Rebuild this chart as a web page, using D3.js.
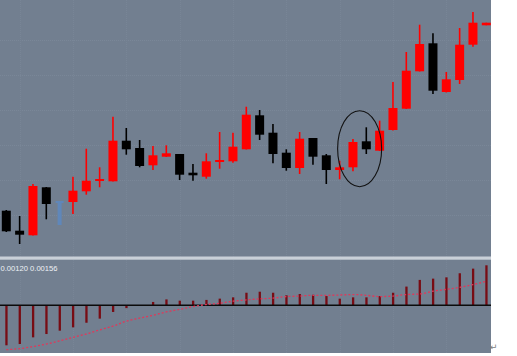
<!DOCTYPE html>
<html>
<head>
<meta charset="utf-8">
<script src="https://cdn.jsdelivr.net/npm/d3@7"></script>
<style>
  html, body { margin: 0; padding: 0; background: #ffffff; }
  svg { display: block; }
</style>
</head>
<body>
<script>
// ---------- data ----------
const opens  = [1.30453,1.30253,1.30207,1.30687,1.30547,1.30540,1.30647,1.30750,1.30747,1.31153,
                1.31080,1.30907,1.30993,1.31020,1.30833,1.30793,1.30945,1.30947,1.31067,1.31407,
                1.31233,1.31033,1.30880,1.31180,1.31007,1.30860,1.30887,1.31147,1.31053,1.31260,
                1.31473,1.31847,1.32127,1.31640,1.31760,1.32113,1.32307];
const highs  = [1.30460,1.30400,1.30720,1.30690,1.30550,1.30793,1.31073,1.30887,1.31393,1.31280,
                1.31160,1.31100,1.31107,1.31020,1.30920,1.31027,1.31240,1.31233,1.31493,1.31460,
                1.31320,1.31067,1.31240,1.31180,1.31020,1.30953,1.31170,1.31287,1.31353,1.31740,
                1.32040,1.32313,1.32227,1.31840,1.32280,1.32440,1.32333];
const lows   = [1.30240,1.30120,1.30205,1.30367,1.30310,1.30420,1.30613,1.30687,1.30745,1.31013,
                1.30887,1.30860,1.30990,1.30760,1.30753,1.30773,1.30873,1.30933,1.31065,1.31160,
                1.30927,1.30853,1.30820,1.30913,1.30720,1.30767,1.30847,1.31020,1.31050,1.31255,
                1.31470,1.31845,1.31620,1.31635,1.31720,1.32093,1.32307];
const closes = [1.30247,1.30213,1.30700,1.30520,1.30310,1.30653,1.30753,1.30770,1.31153,1.31067,
                1.30900,1.31007,1.31027,1.30813,1.30807,1.30947,1.30960,1.31093,1.31413,1.31213,
                1.31020,1.30880,1.31173,1.30993,1.30860,1.30887,1.31140,1.31067,1.31253,1.31480,
                1.31853,1.32120,1.31653,1.31767,1.32113,1.32333,1.32333];
const markedBars = [4];   // bar drawn in blue in the original

const macdHist = [-0.00156,-0.00151,-0.00125,-0.00112,-0.00099,-0.00086,-0.00068,-0.00052,-0.00026,-0.00011,
                   0.00001, 0.00013, 0.00023, 0.00018, 0.00018, 0.00021, 0.00026, 0.00031, 0.00049, 0.00053,
                   0.00049, 0.00039, 0.00044, 0.00041, 0.00036, 0.00026, 0.00031, 0.00031, 0.00036, 0.00049,
                   0.00073, 0.00099, 0.00104, 0.00109, 0.00125, 0.00143, 0.00156];
const macdSignal = [-0.00173,-0.00169,-0.00161,-0.00151,-0.00139,-0.00125,-0.00112,-0.00096,-0.00081,-0.00062,
                    -0.00050,-0.00039,-0.00026,-0.00016,-0.00005, 0.00003, 0.00008, 0.00016, 0.00021, 0.00025,
                     0.00028, 0.00034, 0.00036, 0.00039, 0.00039, 0.00040, 0.00042, 0.00039, 0.00034, 0.00036,
                     0.00042, 0.00044, 0.00055, 0.00062, 0.00070, 0.00081, 0.00094];
const indicatorLabel = "0.00120 0.00156";
const gridPrices = [1.3216, 1.3181, 1.3146, 1.3111, 1.3076, 1.3041];
const circleAt = { bar: 26.5, price: 1.31073, halfBars: 1.65, halfPrice: 0.0038 };

// ---------- layout ----------
const W = 517, H = 356;
const plotW = 491;
const svg = d3.select("body").append("svg").attr("width", W).attr("height", H);

svg.append("rect").attr("x", 0).attr("y", 0).attr("width", plotW).attr("height", 353)
   .attr("fill", "#727f90");

const defs = svg.append("defs");
defs.append("clipPath").attr("id", "clip").append("rect")
    .attr("x", 0).attr("y", 0).attr("width", plotW).attr("height", 353);

const x = d3.scaleLinear().domain([0, 36]).range([6.3, 486.3]);
const y = d3.scaleLinear().domain([1.3000, 1.3256]).range([256, 0]);
const ym = d3.scaleLinear().domain([0, 0.00156]).range([305.3, 265.3]);

const g = svg.append("g").attr("clip-path", "url(#clip)");

// faint grid
g.selectAll("line.hgrid").data(gridPrices).join("line")
  .attr("x1", 0).attr("x2", plotW)
  .attr("y1", d => Math.round(y(d)) + 0.5).attr("y2", d => Math.round(y(d)) + 0.5)
  .attr("stroke", "#7a8798").attr("stroke-width", 1).attr("stroke-dasharray", "1,1");
const vgrid = d3.range(0, 37, 4);
g.selectAll("line.vgrid").data(vgrid).join("line")
  .attr("x1", d => Math.round(x(d + 1)) + 0.5).attr("x2", d => Math.round(x(d + 1)) + 0.5)
  .attr("y1", 0).attr("y2", 353)
  .attr("stroke", "#788596").attr("stroke-width", 1).attr("stroke-dasharray", "1,1");

// candles
const idx = d3.range(opens.length);
const colorOf = i => markedBars.includes(i) ? "#5f87ba" : (closes[i] >= opens[i] ? "#ff0000" : "#000000");

g.selectAll("line.wick").data(idx).join("line")
  .attr("x1", i => x(i)).attr("x2", i => x(i))
  .attr("y1", i => y(highs[i])).attr("y2", i => y(lows[i]))
  .attr("stroke", colorOf).attr("stroke-width", 1.6);

const bodyW = 9;
g.selectAll("rect.body").data(idx).join("rect")
  .attr("x", i => x(i) - (markedBars.includes(i) ? 2 : bodyW / 2))
  .attr("width", i => markedBars.includes(i) ? 4 : bodyW)
  .attr("y", i => y(Math.max(opens[i], closes[i])))
  .attr("height", i => Math.max(2, Math.abs(y(opens[i]) - y(closes[i]))))
  .attr("fill", colorOf);

// cap on the marked bar
g.selectAll("rect.cap").data(markedBars).join("rect")
  .attr("x", i => x(i) - 4).attr("width", 8)
  .attr("y", i => y(highs[i])).attr("height", 2)
  .attr("fill", "#5f87ba");

// ellipse annotation
g.append("ellipse")
  .attr("cx", x(circleAt.bar))
  .attr("cy", y(circleAt.price))
  .attr("rx", x(circleAt.bar + circleAt.halfBars) - x(circleAt.bar))
  .attr("ry", y(circleAt.price - circleAt.halfPrice) - y(circleAt.price))
  .attr("fill", "none").attr("stroke", "#111111").attr("stroke-width", 1.1);

// separator
svg.append("rect").attr("x", 0).attr("y", 256.5).attr("width", plotW).attr("height", 3.2)
   .attr("fill", "#c9d0d8");

// MACD histogram
g.selectAll("rect.hist").data(idx).join("rect")
  .attr("x", i => x(i) - 1)
  .attr("width", 2.3)
  .attr("y", i => Math.min(ym(macdHist[i]), ym(0)))
  .attr("height", i => Math.abs(ym(macdHist[i]) - ym(0)))
  .attr("fill", "#780c14");

// zero line
g.append("line").attr("x1", 0).attr("x2", plotW)
  .attr("y1", ym(0)).attr("y2", ym(0))
  .attr("stroke", "#0b0b0b").attr("stroke-width", 1.4);

// signal line
const line = d3.line().x((d, i) => x(i)).y(d => ym(d)).curve(d3.curveMonotoneX);
g.append("path").datum(macdSignal).attr("d", line)
  .attr("fill", "none").attr("stroke", "#e0385a").attr("stroke-width", 1.3)
  .attr("stroke-dasharray", "2,2");

// indicator values label
svg.append("text").attr("x", 0.5).attr("y", 271)
  .attr("font-family", "Liberation Sans, Arial, sans-serif").attr("font-size", 7.6)
  .attr("fill", "#eef2f6").text(indicatorLabel);

// paragraph mark
svg.append("text").attr("x", 490).attr("y", 350)
  .attr("font-family", "DejaVu Sans, sans-serif").attr("font-size", 9)
  .attr("fill", "#808080").text("↵");
</script>
</body>
</html>
